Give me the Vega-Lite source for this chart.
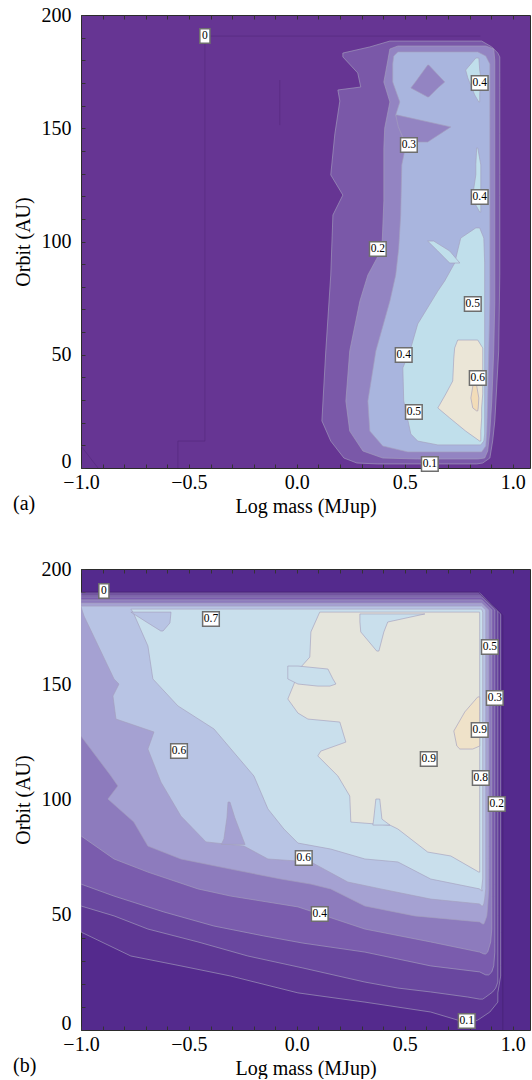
{
"$schema": "https://vega.github.io/schema/vega-lite/v6.json",
"padding": {"left": 12, "top": 4, "right": 0, "bottom": 0},
"background": "white",
"spacing": 41,
"resolve": {"scale": {"color": "independent", "x": "independent", "y": "independent"}},
"config": {
  "font": "Liberation Serif",
  "axis": {"labelFont": "Liberation Serif", "labelFontSize": 20, "labelColor": "#000", "titleFont": "Liberation Serif", "titleFontSize": 20, "titleFontWeight": "normal", "titleColor": "#000", "grid": false, "domain": false, "ticks": true, "tickColor": "#333", "tickWidth": 1, "tickSize": -4, "labelFlush": false, "labelOverlap": false},
  "title": {"font": "Liberation Serif", "fontSize": 20, "fontWeight": "normal", "color": "#000"},
  "view": {"stroke": "#2b2b2b"}
},
"datasets": {
"af": [
{"id":"a1","c":"0.1","y":188.5,"x":0.431,"x2":0.856},{"id":"a1","c":"0.1","y":185.9,"x":0.338,"x2":0.903},{"id":"a1","c":"0.1","y":183.2,"x":0.213,"x2":0.931},{"id":"a1","c":"0.1","y":181.5,"x":0.213,"x2":0.94},{"id":"a1","c":"0.1","y":174.4,"x":0.282,"x2":0.94},{"id":"a1","c":"0.1","y":168.2,"x":0.296,"x2":0.94},{"id":"a1","c":"0.1","y":166.9,"x":0.19,"x2":0.94},{"id":"a1","c":"0.1","y":162.0,"x":0.199,"x2":0.94},{"id":"a1","c":"0.1","y":147.5,"x":0.176,"x2":0.94},{"id":"a1","c":"0.1","y":129.4,"x":0.157,"x2":0.94},{"id":"a1","c":"0.1","y":120.5,"x":0.213,"x2":0.94},{"id":"a1","c":"0.1","y":111.7,"x":0.167,"x2":0.94},{"id":"a1","c":"0.1","y":85.2,"x":0.157,"x2":0.94},{"id":"a1","c":"0.1","y":51.7,"x":0.134,"x2":0.935},{"id":"a1","c":"0.1","y":20.8,"x":0.116,"x2":0.917},{"id":"a1","c":"0.1","y":11.9,"x":0.157,"x2":0.907},{"id":"a1","c":"0.1","y":4.4,"x":0.218,"x2":0.894},{"id":"a1","c":"0.1","y":2.2,"x":0.278,"x2":0.861},{"id":"a1","c":"0.1","y":1.8,"x":0.375,"x2":0.833},
{"id":"a2","c":"0.2","y":186.3,"x":0.468,"x2":0.875},{"id":"a2","c":"0.2","y":185.0,"x":0.431,"x2":0.912},{"id":"a2","c":"0.2","y":179.7,"x":0.421,"x2":0.917},{"id":"a2","c":"0.2","y":170.4,"x":0.403,"x2":0.917},{"id":"a2","c":"0.2","y":161.6,"x":0.431,"x2":0.917},{"id":"a2","c":"0.2","y":150.1,"x":0.407,"x2":0.917},{"id":"a2","c":"0.2","y":141.3,"x":0.403,"x2":0.917},{"id":"a2","c":"0.2","y":117.9,"x":0.403,"x2":0.917},{"id":"a2","c":"0.2","y":96.7,"x":0.394,"x2":0.917},{"id":"a2","c":"0.2","y":85.2,"x":0.329,"x2":0.917},{"id":"a2","c":"0.2","y":73.7,"x":0.292,"x2":0.917},{"id":"a2","c":"0.2","y":51.7,"x":0.245,"x2":0.912},{"id":"a2","c":"0.2","y":29.6,"x":0.227,"x2":0.903},{"id":"a2","c":"0.2","y":16.3,"x":0.245,"x2":0.894},{"id":"a2","c":"0.2","y":7.5,"x":0.306,"x2":0.884},{"id":"a2","c":"0.2","y":4.4,"x":0.398,"x2":0.87},{"id":"a2","c":"0.2","y":4.0,"x":0.56,"x2":0.838},
{"id":"a3","c":"0.3","y":183.7,"x":0.468,"x2":0.838},{"id":"a3","c":"0.3","y":181.9,"x":0.449,"x2":0.875},{"id":"a3","c":"0.3","y":178.4,"x":0.444,"x2":0.894},{"id":"a3","c":"0.3","y":170.4,"x":0.444,"x2":0.894},{"id":"a3","c":"0.3","y":161.6,"x":0.477,"x2":0.894},{"id":"a3","c":"0.3","y":155.8,"x":0.458,"x2":0.894},{"id":"a3","c":"0.3","y":150.1,"x":0.486,"x2":0.894},{"id":"a3","c":"0.3","y":142.6,"x":0.505,"x2":0.894},{"id":"a3","c":"0.3","y":133.8,"x":0.486,"x2":0.894},{"id":"a3","c":"0.3","y":111.7,"x":0.481,"x2":0.894},{"id":"a3","c":"0.3","y":97.1,"x":0.472,"x2":0.894},{"id":"a3","c":"0.3","y":85.2,"x":0.458,"x2":0.894},{"id":"a3","c":"0.3","y":73.7,"x":0.431,"x2":0.894},{"id":"a3","c":"0.3","y":51.7,"x":0.366,"x2":0.889},{"id":"a3","c":"0.3","y":29.6,"x":0.329,"x2":0.884},{"id":"a3","c":"0.3","y":16.3,"x":0.338,"x2":0.88},{"id":"a3","c":"0.3","y":9.7,"x":0.398,"x2":0.875},{"id":"a3","c":"0.3","y":7.1,"x":0.514,"x2":0.856},
{"id":"a3h1","c":"0.2","y":177.9,"x":0.606,"x2":0.611},{"id":"a3h1","c":"0.2","y":170.4,"x":0.549,"x2":0.685},{"id":"a3h1","c":"0.2","y":167.8,"x":0.528,"x2":0.653},{"id":"a3h1","c":"0.2","y":163.8,"x":0.606,"x2":0.611},
{"id":"a3h2","c":"0.2","y":155.8,"x":0.458,"x2":0.466},{"id":"a3h2","c":"0.2","y":150.6,"x":0.47,"x2":0.713},{"id":"a3h2","c":"0.2","y":143.9,"x":0.5,"x2":0.606},
{"id":"a4p1","c":"0.4","y":181.0,"x":0.829,"x2":0.843},{"id":"a4p1","c":"0.4","y":175.7,"x":0.782,"x2":0.847},{"id":"a4p1","c":"0.4","y":172.2,"x":0.792,"x2":0.852},{"id":"a4p1","c":"0.4","y":164.7,"x":0.824,"x2":0.847},{"id":"a4p1","c":"0.4","y":161.6,"x":0.843,"x2":0.847},
{"id":"a4p2","c":"0.4","y":141.3,"x":0.833,"x2":0.838},{"id":"a4p2","c":"0.4","y":133.8,"x":0.829,"x2":0.852},{"id":"a4p2","c":"0.4","y":129.4,"x":0.829,"x2":0.852},{"id":"a4p2","c":"0.4","y":120.5,"x":0.815,"x2":0.852},{"id":"a4p2","c":"0.4","y":116.1,"x":0.829,"x2":0.852},{"id":"a4p2","c":"0.4","y":113.0,"x":0.847,"x2":0.852},
{"id":"a4m","c":"0.4","y":106.0,"x":0.829,"x2":0.847},{"id":"a4m","c":"0.4","y":101.5,"x":0.759,"x2":0.866},{"id":"a4m","c":"0.4","y":90.5,"x":0.731,"x2":0.87},{"id":"a4m","c":"0.4","y":82.6,"x":0.685,"x2":0.87},{"id":"a4m","c":"0.4","y":78.1,"x":0.653,"x2":0.87},{"id":"a4m","c":"0.4","y":63.6,"x":0.56,"x2":0.87},{"id":"a4m","c":"0.4","y":53.0,"x":0.528,"x2":0.87},{"id":"a4m","c":"0.4","y":44.2,"x":0.491,"x2":0.87},{"id":"a4m","c":"0.4","y":29.6,"x":0.495,"x2":0.87},{"id":"a4m","c":"0.4","y":15.0,"x":0.528,"x2":0.87},{"id":"a4m","c":"0.4","y":11.9,"x":0.56,"x2":0.866},{"id":"a4m","c":"0.4","y":10.2,"x":0.653,"x2":0.852},
{"id":"a4s","c":"0.4","y":100.2,"x":0.606,"x2":0.634},{"id":"a4s","c":"0.4","y":95.8,"x":0.653,"x2":0.708},{"id":"a4s","c":"0.4","y":90.5,"x":0.708,"x2":0.755},
{"id":"a5","c":"0.5","y":56.5,"x":0.745,"x2":0.838},{"id":"a5","c":"0.5","y":53.0,"x":0.731,"x2":0.861},{"id":"a5","c":"0.5","y":48.6,"x":0.727,"x2":0.861},{"id":"a5","c":"0.5","y":38.4,"x":0.722,"x2":0.861},{"id":"a5","c":"0.5","y":32.7,"x":0.69,"x2":0.861},{"id":"a5","c":"0.5","y":26.5,"x":0.653,"x2":0.856},{"id":"a5","c":"0.5","y":22.1,"x":0.708,"x2":0.856},{"id":"a5","c":"0.5","y":16.3,"x":0.782,"x2":0.852},{"id":"a5","c":"0.5","y":11.9,"x":0.847,"x2":0.852},
{"id":"a6","c":"0.6","y":38.4,"x":0.819,"x2":0.829},{"id":"a6","c":"0.6","y":30.9,"x":0.806,"x2":0.843},{"id":"a6","c":"0.6","y":26.5,"x":0.815,"x2":0.84},{"id":"a6","c":"0.6","y":25.2,"x":0.833,"x2":0.838}
],
"al": [
{"id":"l1","o":1,"x":-0.551,"y":0},{"id":"l1","o":2,"x":-0.551,"y":11.9},{"id":"l1","o":3,"x":-0.426,"y":11.9},{"id":"l1","o":4,"x":-0.426,"y":190.7},{"id":"l1","o":5,"x":0.85,"y":190.7},
{"id":"l2","o":1,"x":-1,"y":9.7},{"id":"l2","o":2,"x":-0.921,"y":0},
{"id":"l3","o":1,"x":-0.079,"y":171.3},{"id":"l3","o":2,"x":-0.079,"y":151.4}
],
"alab": [
{"t":"0","x":-0.426,"y":190.7},{"t":"0.4","x":0.847,"y":170.0},{"t":"0.3","x":0.519,"y":142.6},{"t":"0.4","x":0.847,"y":119.6},{"t":"0.2","x":0.375,"y":96.7},{"t":"0.5","x":0.815,"y":72.4},{"t":"0.4","x":0.495,"y":49.9},{"t":"0.6","x":0.838,"y":39.7},{"t":"0.5","x":0.542,"y":24.7},{"t":"0.1","x":0.616,"y":1.8}
],
"bf": [
{"id":"b1","c":"0.1","y":189.6,"x":-1,"x2":0.847},{"id":"b1","c":"0.1","y":180.5,"x":-1,"x2":0.944},{"id":"b1","c":"0.1","y":42.5,"x":-1,"x2":0.944},{"id":"b1","c":"0.1","y":32.1,"x":-0.769,"x2":0.944},{"id":"b1","c":"0.1","y":27.8,"x":-0.537,"x2":0.944},{"id":"b1","c":"0.1","y":23.4,"x":-0.306,"x2":0.944},{"id":"b1","c":"0.1","y":16.1,"x":0.005,"x2":0.931},{"id":"b1","c":"0.1","y":12.1,"x":0.315,"x2":0.931},{"id":"b1","c":"0.1","y":7.8,"x":0.62,"x2":0.894},{"id":"b1","c":"0.1","y":4.3,"x":0.745,"x2":0.838},{"id":"b1","c":"0.1","y":3.5,"x":0.792,"x2":0.815},
{"id":"b2","c":"0.2","y":188.7,"x":-1,"x2":0.856},{"id":"b2","c":"0.2","y":181.8,"x":-1,"x2":0.931},{"id":"b2","c":"0.2","y":53.8,"x":-1,"x2":0.931},{"id":"b2","c":"0.2","y":49.5,"x":-0.847,"x2":0.931},{"id":"b2","c":"0.2","y":43.8,"x":-0.69,"x2":0.931},{"id":"b2","c":"0.2","y":38.2,"x":-0.458,"x2":0.931},{"id":"b2","c":"0.2","y":32.1,"x":-0.227,"x2":0.931},{"id":"b2","c":"0.2","y":26.9,"x":0.028,"x2":0.931},{"id":"b2","c":"0.2","y":20.8,"x":0.315,"x2":0.931},{"id":"b2","c":"0.2","y":18.2,"x":0.468,"x2":0.921},{"id":"b2","c":"0.2","y":16.5,"x":0.62,"x2":0.907},{"id":"b2","c":"0.2","y":14.3,"x":0.792,"x2":0.875},{"id":"b2","c":"0.2","y":13.4,"x":0.847,"x2":0.861},
{"id":"b3","c":"0.3","y":187.9,"x":-1,"x2":0.856},{"id":"b3","c":"0.3","y":182.2,"x":-1,"x2":0.917},{"id":"b3","c":"0.3","y":63.3,"x":-1,"x2":0.917},{"id":"b3","c":"0.3","y":58.1,"x":-0.847,"x2":0.917},{"id":"b3","c":"0.3","y":51.2,"x":-0.616,"x2":0.917},{"id":"b3","c":"0.3","y":45.1,"x":-0.384,"x2":0.917},{"id":"b3","c":"0.3","y":40.8,"x":-0.153,"x2":0.917},{"id":"b3","c":"0.3","y":37.7,"x":0.028,"x2":0.917},{"id":"b3","c":"0.3","y":33.8,"x":0.315,"x2":0.917},{"id":"b3","c":"0.3","y":27.8,"x":0.62,"x2":0.912},{"id":"b3","c":"0.3","y":25.2,"x":0.847,"x2":0.903},{"id":"b3","c":"0.3","y":23.9,"x":0.875,"x2":0.889},
{"id":"b4","c":"0.4","y":186.6,"x":-1,"x2":0.856},{"id":"b4","c":"0.4","y":182.2,"x":-1,"x2":0.903},{"id":"b4","c":"0.4","y":84.2,"x":-1,"x2":0.903},{"id":"b4","c":"0.4","y":74.2,"x":-0.847,"x2":0.903},{"id":"b4","c":"0.4","y":68.5,"x":-0.69,"x2":0.903},{"id":"b4","c":"0.4","y":61.2,"x":-0.458,"x2":0.903},{"id":"b4","c":"0.4","y":58.1,"x":-0.306,"x2":0.903},{"id":"b4","c":"0.4","y":53.4,"x":0.005,"x2":0.903},{"id":"b4","c":"0.4","y":50.3,"x":0.106,"x2":0.903},{"id":"b4","c":"0.4","y":43.8,"x":0.315,"x2":0.903},{"id":"b4","c":"0.4","y":38.2,"x":0.62,"x2":0.898},{"id":"b4","c":"0.4","y":33.8,"x":0.847,"x2":0.884},{"id":"b4","c":"0.4","y":33.0,"x":0.866,"x2":0.875},
{"id":"b5","c":"0.5","y":185.2,"x":-1,"x2":0.856},{"id":"b5","c":"0.5","y":182.2,"x":-1,"x2":0.889},{"id":"b5","c":"0.5","y":127.5,"x":-1,"x2":0.889},{"id":"b5","c":"0.5","y":110.2,"x":-0.861,"x2":0.889},{"id":"b5","c":"0.5","y":105.9,"x":-0.829,"x2":0.889},{"id":"b5","c":"0.5","y":100.2,"x":-0.875,"x2":0.889},{"id":"b5","c":"0.5","y":90.2,"x":-0.755,"x2":0.889},{"id":"b5","c":"0.5","y":79.8,"x":-0.69,"x2":0.889},{"id":"b5","c":"0.5","y":74.2,"x":-0.537,"x2":0.889},{"id":"b5","c":"0.5","y":69.8,"x":-0.306,"x2":0.889},{"id":"b5","c":"0.5","y":65.5,"x":-0.074,"x2":0.889},{"id":"b5","c":"0.5","y":63.3,"x":0.065,"x2":0.889},{"id":"b5","c":"0.5","y":61.2,"x":0.157,"x2":0.889},{"id":"b5","c":"0.5","y":53.8,"x":0.315,"x2":0.884},{"id":"b5","c":"0.5","y":49.5,"x":0.546,"x2":0.88},{"id":"b5","c":"0.5","y":46.9,"x":0.847,"x2":0.87},{"id":"b5","c":"0.5","y":46.0,"x":0.861,"x2":0.866},
{"id":"b6","c":"0.6","y":183.9,"x":-1,"x2":0.856},{"id":"b6","c":"0.6","y":182.2,"x":-0.995,"x2":0.875},{"id":"b6","c":"0.6","y":179.6,"x":-0.986,"x2":0.875},{"id":"b6","c":"0.6","y":152.3,"x":-0.847,"x2":0.875},{"id":"b6","c":"0.6","y":150.1,"x":-0.824,"x2":0.875},{"id":"b6","c":"0.6","y":144.9,"x":-0.852,"x2":0.875},{"id":"b6","c":"0.6","y":134.9,"x":-0.838,"x2":0.875},{"id":"b6","c":"0.6","y":129.3,"x":-0.662,"x2":0.875},{"id":"b6","c":"0.6","y":121.9,"x":-0.69,"x2":0.875},{"id":"b6","c":"0.6","y":107.6,"x":-0.63,"x2":0.875},{"id":"b6","c":"0.6","y":92.8,"x":-0.537,"x2":0.875},{"id":"b6","c":"0.6","y":81.6,"x":-0.421,"x2":0.875},{"id":"b6","c":"0.6","y":79.8,"x":-0.245,"x2":0.875},{"id":"b6","c":"0.6","y":74.2,"x":-0.134,"x2":0.875},{"id":"b6","c":"0.6","y":72.9,"x":0.065,"x2":0.875},{"id":"b6","c":"0.6","y":64.2,"x":0.236,"x2":0.875},{"id":"b6","c":"0.6","y":61.2,"x":0.389,"x2":0.875},{"id":"b6","c":"0.6","y":56.8,"x":0.62,"x2":0.87},{"id":"b6","c":"0.6","y":54.7,"x":0.847,"x2":0.866},{"id":"b6","c":"0.6","y":53.8,"x":0.856,"x2":0.861},
{"id":"b6s","c":"0.5","y":98.9,"x":-0.319,"x2":-0.31},{"id":"b6s","c":"0.5","y":92.0,"x":-0.324,"x2":-0.287},{"id":"b6s","c":"0.5","y":82.9,"x":-0.338,"x2":-0.25},{"id":"b6s","c":"0.5","y":80.5,"x":-0.35,"x2":-0.24},
{"id":"b7","c":"0.7","y":182.6,"x":-0.769,"x2":0.856},{"id":"b7","c":"0.7","y":181.3,"x":-0.759,"x2":0.861},{"id":"b7","c":"0.7","y":166.6,"x":-0.69,"x2":0.861},{"id":"b7","c":"0.7","y":152.3,"x":-0.667,"x2":0.861},{"id":"b7","c":"0.7","y":140.6,"x":-0.551,"x2":0.861},{"id":"b7","c":"0.7","y":130.6,"x":-0.384,"x2":0.861},{"id":"b7","c":"0.7","y":110.2,"x":-0.199,"x2":0.861},{"id":"b7","c":"0.7","y":95.9,"x":-0.134,"x2":0.861},{"id":"b7","c":"0.7","y":87.2,"x":-0.06,"x2":0.861},{"id":"b7","c":"0.7","y":81.1,"x":0.005,"x2":0.861},{"id":"b7","c":"0.7","y":78.5,"x":0.157,"x2":0.861},{"id":"b7","c":"0.7","y":74.2,"x":0.315,"x2":0.861},{"id":"b7","c":"0.7","y":72.9,"x":0.468,"x2":0.861},{"id":"b7","c":"0.7","y":65.5,"x":0.62,"x2":0.861},{"id":"b7","c":"0.7","y":61.2,"x":0.847,"x2":0.856},{"id":"b7","c":"0.7","y":60.3,"x":0.856,"x2":0.859},
{"id":"b7n","c":"0.6","y":181.3,"x":-0.769,"x2":-0.583},{"id":"b7n","c":"0.6","y":176.6,"x":-0.69,"x2":-0.588},{"id":"b7n","c":"0.6","y":173.1,"x":-0.63,"x2":-0.62},
{"id":"b8","c":"0.8","y":181.3,"x":0.106,"x2":0.847},{"id":"b8","c":"0.8","y":172.7,"x":0.065,"x2":0.847},{"id":"b8","c":"0.8","y":161.8,"x":0.06,"x2":0.847},{"id":"b8","c":"0.8","y":157.5,"x":0.019,"x2":0.847},{"id":"b8","c":"0.8","y":143.6,"x":-0.042,"x2":0.847},{"id":"b8","c":"0.8","y":137.5,"x":0.005,"x2":0.847},{"id":"b8","c":"0.8","y":134.9,"x":0.051,"x2":0.847},{"id":"b8","c":"0.8","y":133.6,"x":0.199,"x2":0.847},{"id":"b8","c":"0.8","y":124.9,"x":0.227,"x2":0.847},{"id":"b8","c":"0.8","y":121.0,"x":0.111,"x2":0.847},{"id":"b8","c":"0.8","y":118.9,"x":0.097,"x2":0.847},{"id":"b8","c":"0.8","y":110.2,"x":0.19,"x2":0.847},{"id":"b8","c":"0.8","y":101.5,"x":0.245,"x2":0.847},{"id":"b8","c":"0.8","y":90.2,"x":0.25,"x2":0.847},{"id":"b8","c":"0.8","y":88.9,"x":0.431,"x2":0.847},{"id":"b8","c":"0.8","y":87.2,"x":0.468,"x2":0.847},{"id":"b8","c":"0.8","y":77.2,"x":0.606,"x2":0.847},{"id":"b8","c":"0.8","y":75.5,"x":0.713,"x2":0.847},{"id":"b8","c":"0.8","y":68.5,"x":0.843,"x2":0.847},
{"id":"b8n","c":"0.7","y":180.5,"x":0.292,"x2":0.593},{"id":"b8n","c":"0.7","y":177.0,"x":0.292,"x2":0.421},{"id":"b8n","c":"0.7","y":172.7,"x":0.296,"x2":0.403},{"id":"b8n","c":"0.7","y":164.4,"x":0.37,"x2":0.38},
{"id":"b8f","c":"0.7","y":157.9,"x":-0.042,"x2":0.005},{"id":"b8f","c":"0.7","y":156.6,"x":-0.042,"x2":0.144},{"id":"b8f","c":"0.7","y":152.3,"x":-0.042,"x2":0.167},{"id":"b8f","c":"0.7","y":150.1,"x":0.005,"x2":0.181},{"id":"b8f","c":"0.7","y":149.2,"x":0.097,"x2":0.153},
{"id":"b8u","c":"0.7","y":100.2,"x":0.366,"x2":0.384},{"id":"b8u","c":"0.7","y":91.5,"x":0.356,"x2":0.394},{"id":"b8u","c":"0.7","y":88.9,"x":0.352,"x2":0.431},
{"id":"b9","c":"0.9","y":144.5,"x":0.838,"x2":0.847},{"id":"b9","c":"0.9","y":138.0,"x":0.778,"x2":0.847},{"id":"b9","c":"0.9","y":129.7,"x":0.727,"x2":0.847},{"id":"b9","c":"0.9","y":123.2,"x":0.741,"x2":0.847},{"id":"b9","c":"0.9","y":121.9,"x":0.755,"x2":0.815}
],
"bl": [
{"id":"m1","o":1,"x":-1,"y":190},{"id":"m1","o":2,"x":0.84,"y":190},{"id":"m1","o":3,"x":0.954,"y":180},{"id":"m1","o":4,"x":0.954,"y":0}
],
"blab": [
{"t":"0","x":-0.894,"y":190.5},{"t":"0.7","x":-0.398,"y":178.3},{"t":"0.5","x":0.894,"y":166.2},{"t":"0.3","x":0.917,"y":144.0},{"t":"0.6","x":-0.546,"y":121.0},{"t":"0.9","x":0.847,"y":130.2},{"t":"0.9","x":0.611,"y":117.6},{"t":"0.8","x":0.852,"y":109.3},{"t":"0.2","x":0.926,"y":98.0},{"t":"0.6","x":0.032,"y":74.6},{"t":"0.4","x":0.106,"y":50.3},{"t":"0.1","x":0.787,"y":3.9}
]
},
"vconcat": [
{
 "width": 449, "height": 453,
 "view": {"fill": "#663593", "stroke": "#2b2b2b", "strokeWidth": 1},
 "title": {"text": "(a)", "orient": "bottom", "anchor": "start", "frame": "bounds", "offset": -22},
 "resolve": {"axis": {"x": "independent", "y": "independent"}},
 "layer": [
  {"data": {"name": "af"},
   "mark": {"type": "area", "orient": "horizontal", "clip": true, "stroke": "#a39fbd", "strokeWidth": 0.8, "strokeOpacity": 0.8, "fillOpacity": 1},
   "encoding": {
    "y": {"field": "y", "type": "quantitative", "scale": {"domain": [0, 200], "nice": false, "zero": false},
      "axis": {"title": "Orbit (AU)", "values": [0,10,20,30,40,50,60,70,80,90,100,110,120,130,140,150,160,170,180,190,200], "labelExpr": "datum.value % 50 === 0 ? datum.label : ''", "labelPadding": 14, "titlePadding": 8, "labelOffset": {"condition": {"test": "datum.value === 0", "value": -7}, "value": 0}}},
    "x": {"field": "x", "type": "quantitative", "scale": {"domain": [-1, 1.08], "nice": false, "zero": false},
      "axis": {"title": "Log mass (MJup)", "values": [-1,-0.9,-0.8,-0.7,-0.6,-0.5,-0.4,-0.3,-0.2,-0.1,0,0.1,0.2,0.3,0.4,0.5,0.6,0.7,0.8,0.9,1], "labelExpr": "abs(datum.value*2 - round(datum.value*2)) < 0.001 ? format(datum.value, '.1f') : ''", "labelPadding": 8, "titlePadding": 4}},
    "x2": {"field": "x2"},
    "color": {"field": "c", "type": "nominal", "legend": null,
      "scale": {"domain": ["0.1","0.2","0.3","0.4","0.5","0.6"], "range": ["#7a58a8","#9384c2","#a9b5de","#c0dfeb","#ebe6d7","#f2dcb8"]}},
    "detail": {"field": "id"}
   }},
  {"data": {"name": "al"},
   "mark": {"type": "line", "clip": true, "stroke": "#54287c", "strokeWidth": 1, "strokeOpacity": 0.6},
   "encoding": {
    "x": {"field": "x", "type": "quantitative", "axis": null},
    "y": {"field": "y", "type": "quantitative", "axis": null},
    "detail": {"field": "id"},
    "order": {"field": "o", "type": "quantitative"}
   }},
  {"data": {"name": "alab"},
   "mark": {"type": "point", "filled": true, "fill": "white", "stroke": "#6e6e6e", "strokeWidth": 1.5, "size": 210, "opacity": 1, "fillOpacity": 1, "strokeOpacity": 1},
   "encoding": {
    "x": {"field": "x", "type": "quantitative", "axis": {"orient": "top", "labels": false, "title": null, "values": [-1,-0.9,-0.8,-0.7,-0.6,-0.5,-0.4,-0.3,-0.2,-0.1,0,0.1,0.2,0.3,0.4,0.5,0.6,0.7,0.8,0.9,1]}},
    "y": {"field": "y", "type": "quantitative", "axis": null},
    "shape": {"condition": {"test": "length(datum.t) < 2", "value": "M-0.7,-1L0.7,-1L0.7,1L-0.7,1Z"}, "value": "M-1.15,-1L1.15,-1L1.15,1L-1.15,1Z"}
   }},
  {"data": {"name": "alab"},
   "mark": {"type": "text", "font": "Liberation Serif", "fontSize": 11.5, "color": "#000", "baseline": "middle", "align": "center"},
   "encoding": {
    "x": {"field": "x", "type": "quantitative", "axis": null},
    "y": {"field": "y", "type": "quantitative", "axis": null},
    "text": {"field": "t"}
   }}
 ]
},
{
 "width": 449, "height": 461,
 "view": {"fill": "#542a8d", "stroke": "#2b2b2b", "strokeWidth": 1},
 "title": {"text": "(b)", "orient": "bottom", "anchor": "start", "frame": "bounds", "offset": -22},
 "resolve": {"axis": {"x": "independent", "y": "independent"}},
 "layer": [
  {"data": {"name": "bf"},
   "mark": {"type": "area", "orient": "horizontal", "clip": true, "stroke": "#a39fbd", "strokeWidth": 0.8, "strokeOpacity": 0.8, "fillOpacity": 1},
   "encoding": {
    "y": {"field": "y", "type": "quantitative", "scale": {"domain": [0, 200], "nice": false, "zero": false},
      "axis": {"title": "Orbit (AU)", "values": [0,10,20,30,40,50,60,70,80,90,100,110,120,130,140,150,160,170,180,190,200], "labelExpr": "datum.value % 50 === 0 ? datum.label : ''", "labelPadding": 14, "titlePadding": 8, "labelOffset": {"condition": {"test": "datum.value === 0", "value": -7}, "value": 0}}},
    "x": {"field": "x", "type": "quantitative", "scale": {"domain": [-1, 1.08], "nice": false, "zero": false},
      "axis": {"title": "Log mass (MJup)", "values": [-1,-0.9,-0.8,-0.7,-0.6,-0.5,-0.4,-0.3,-0.2,-0.1,0,0.1,0.2,0.3,0.4,0.5,0.6,0.7,0.8,0.9,1], "labelExpr": "abs(datum.value*2 - round(datum.value*2)) < 0.001 ? format(datum.value, '.1f') : ''", "labelPadding": 8, "titlePadding": 4}},
    "x2": {"field": "x2"},
    "color": {"field": "c", "type": "nominal", "legend": null,
      "scale": {"domain": ["0.1","0.2","0.3","0.4","0.5","0.6","0.7","0.8","0.9"], "range": ["#5e3794","#69479f","#7a5cad","#8d7bbd","#a5a1d2","#b8c4e4","#c9dfec","#e5e5dc","#efe2c9"]}},
    "detail": {"field": "id"}
   }},
  {"data": {"name": "bl"},
   "mark": {"type": "line", "clip": true, "stroke": "#45206e", "strokeWidth": 1, "strokeOpacity": 0.6},
   "encoding": {
    "x": {"field": "x", "type": "quantitative", "axis": null},
    "y": {"field": "y", "type": "quantitative", "axis": null},
    "detail": {"field": "id"},
    "order": {"field": "o", "type": "quantitative"}
   }},
  {"data": {"name": "blab"},
   "mark": {"type": "point", "filled": true, "fill": "white", "stroke": "#6e6e6e", "strokeWidth": 1.5, "size": 210, "opacity": 1, "fillOpacity": 1, "strokeOpacity": 1},
   "encoding": {
    "x": {"field": "x", "type": "quantitative", "axis": {"orient": "top", "labels": false, "title": null, "values": [-1,-0.9,-0.8,-0.7,-0.6,-0.5,-0.4,-0.3,-0.2,-0.1,0,0.1,0.2,0.3,0.4,0.5,0.6,0.7,0.8,0.9,1]}},
    "y": {"field": "y", "type": "quantitative", "axis": null},
    "shape": {"condition": {"test": "length(datum.t) < 2", "value": "M-0.7,-1L0.7,-1L0.7,1L-0.7,1Z"}, "value": "M-1.15,-1L1.15,-1L1.15,1L-1.15,1Z"}
   }},
  {"data": {"name": "blab"},
   "mark": {"type": "text", "font": "Liberation Serif", "fontSize": 11.5, "color": "#000", "baseline": "middle", "align": "center"},
   "encoding": {
    "x": {"field": "x", "type": "quantitative", "axis": null},
    "y": {"field": "y", "type": "quantitative", "axis": null},
    "text": {"field": "t"}
   }}
 ]
}
]
}
